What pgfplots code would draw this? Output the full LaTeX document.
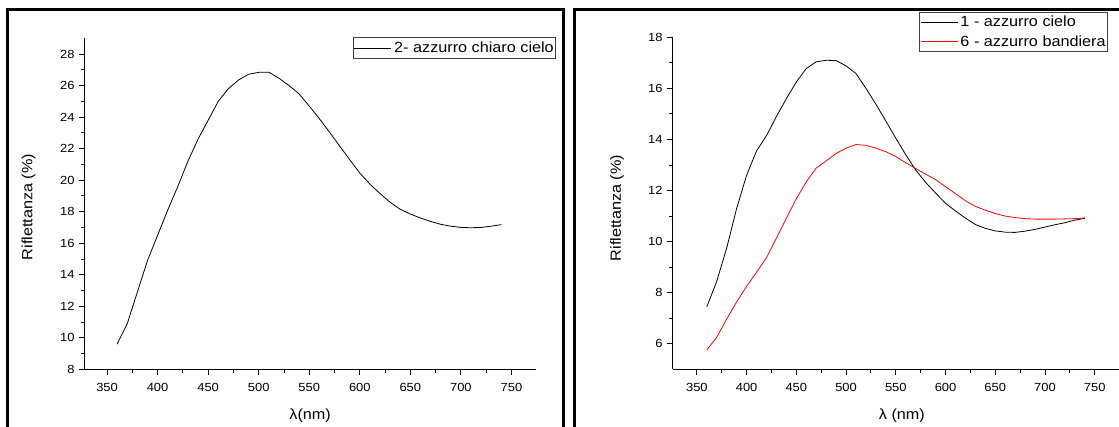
\documentclass[border=0pt]{standalone}
\usepackage{fontspec}
\setmainfont{Liberation Sans}[FakeStretch=1.1]
\usepackage{pgfplots}
\usepackage{pgfplotstable}
\pgfplotsset{compat=1.18}

\pgfplotstableread{
x y
360 9.6
370 10.9
380 12.9
390 14.9
400 16.5
410 18.1
420 19.6
430 21.2
440 22.6
450 23.8
460 25.0
470 25.8
480 26.35
490 26.72
500 26.84
510 26.85
520 26.47
530 26.0
540 25.47
550 24.7
560 23.9
570 23.05
580 22.17
590 21.3
600 20.45
610 19.75
620 19.15
630 18.6
640 18.15
650 17.85
660 17.6
670 17.38
680 17.2
690 17.08
700 17.0
710 16.98
720 17.0
730 17.08
740 17.18
}\seriesA

\pgfplotstableread{
x y
360 7.45
370 8.45
380 9.75
390 11.3
400 12.6
410 13.55
420 14.15
430 14.9
440 15.6
450 16.25
460 16.78
470 17.04
480 17.1
490 17.09
500 16.88
510 16.58
520 16.0
530 15.38
540 14.72
550 14.05
560 13.4
570 12.8
580 12.32
590 11.9
600 11.5
610 11.2
620 10.92
630 10.67
640 10.52
650 10.42
660 10.37
670 10.36
680 10.41
690 10.48
700 10.57
710 10.66
720 10.74
730 10.84
740 10.91
}\seriesB

\pgfplotstableread{
x y
360 5.76
370 6.25
380 6.97
390 7.64
400 8.25
410 8.8
420 9.37
430 10.14
440 10.92
450 11.68
460 12.34
470 12.88
480 13.16
490 13.45
500 13.66
510 13.8
520 13.77
530 13.66
540 13.52
550 13.33
560 13.09
570 12.86
580 12.64
590 12.43
600 12.15
610 11.88
620 11.6
630 11.38
640 11.23
650 11.1
660 11.0
670 10.94
680 10.9
690 10.88
700 10.88
710 10.88
720 10.89
730 10.9
740 10.93
}\seriesC

\pgfplotsset{
  myaxis/.style={
    scale only axis,
    axis x line*=bottom, axis y line*=left,
    tick align=outside,
    major tick length=6bp, minor tick length=3.5bp,
    axis line style={line width=0.9bp, black},
    every tick/.style={line width=0.9bp, black},
    minor x tick num=1, minor y tick num=1,
    xtick={350,400,...,750},
    tick label style={font=\fontsize{11.8}{13}\selectfont},
    xticklabel style={yshift=-4bp},
    yticklabel style={xshift=-0.5bp},
    /pgf/number format/assume math mode=true,
    label style={font=\fontsize{14.8}{16}\selectfont},
    xlabel style={at={(axis description cs:0.5,-0.14)}, anchor=center},
    legend style={font=\fontsize{14.8}{16}\selectfont, draw=black!75, line width=0.8bp,
      fill=white, inner sep=0.5bp, column sep=1.5bp,
      nodes={inner xsep=1bp, inner ysep=3.6bp}},
    legend cell align=left,
    legend image code/.code={\draw[#1, line width=0.7bp] (0bp,0bp) -- (37bp,0bp);},
  }
}

\begin{document}
\begin{tikzpicture}
\useasboundingbox (0,0) rectangle (1119bp,427bp);
\fill[white] (0,0) rectangle (1119bp,427bp);
\draw[line width=3bp] (7.9bp,-30bp) -- (7.9bp,417bp) -- (563.6bp,417bp) -- (563.6bp,-30bp);
\draw[line width=3bp] (574.3bp,-30bp) -- (574.3bp,417.7bp) -- (1140bp,417.7bp);

\begin{axis}[myaxis,
  at={(84.6bp,57.7bp)}, anchor=south west,
  width=451.1bp, height=331bp,
  xmin=327.8, xmax=774, ymin=8, ymax=29,
  ytick={8,10,...,28},
  xlabel={λ(nm)}, ylabel={Riflettanza (\%)},
  ylabel style={at={(axis description cs:-0.124,0.49)}, anchor=center},
  legend style={at={(1.0443,1.003)}, anchor=north east},
]
\addplot[black, line width=0.8bp] table[x=x,y=y] {\seriesA};
\addlegendentry{2- azzurro chiaro cielo}
\end{axis}

\begin{axis}[myaxis,
  at={(672.5bp,57.7bp)}, anchor=south west,
  width=447.1bp, height=332bp,
  xmin=325.5, xmax=775, ymin=5, ymax=18,
  ytick={6,8,...,18},
  xlabel={λ (nm)}, ylabel={Riflettanza (\%)},
  xlabel style={at={(axis description cs:0.513,-0.14)}, anchor=center},
  ylabel style={at={(axis description cs:-0.124,0.486)}, anchor=center},
  legend style={at={(0.973,1.077)}, anchor=north east},
]
\addplot[black, line width=0.8bp] table[x=x,y=y] {\seriesB};
\addlegendentry{1 - azzurro cielo}
\addplot[red, line width=0.8bp] table[x=x,y=y] {\seriesC};
\addlegendentry{6 - azzurro bandiera}
\end{axis}
\end{tikzpicture}
\end{document}
